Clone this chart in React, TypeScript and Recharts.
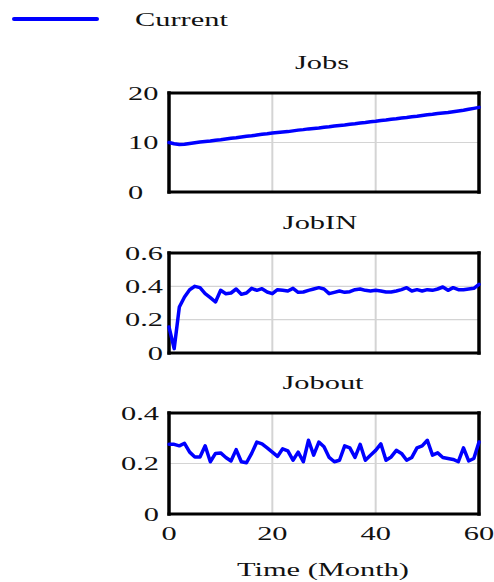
import React from 'react';
import { LineChart, Line, XAxis, YAxis, CartesianGrid, ReferenceLine } from 'recharts';

const months: number[] = Array.from({ length: 61 }, (_, i) => i);

const jobs: number[] = [
  10.0, 9.75, 9.6, 9.65, 9.8, 9.95, 10.1, 10.2, 10.3, 10.45,
  10.55, 10.7, 10.85, 10.95, 11.1, 11.25, 11.35, 11.5, 11.65, 11.75,
  11.9, 12.0, 12.1, 12.2, 12.35, 12.5, 12.6, 12.75, 12.85, 12.95,
  13.1, 13.2, 13.35, 13.45, 13.55, 13.7, 13.8, 13.95, 14.05, 14.2,
  14.3, 14.45, 14.55, 14.7, 14.8, 14.95, 15.05, 15.2, 15.3, 15.45,
  15.6, 15.7, 15.85, 15.95, 16.05, 16.2, 16.35, 16.5, 16.7, 16.9,
  17.1,
];

const jobIN: number[] = [
  0.156, 0.026, 0.276, 0.336, 0.38, 0.4, 0.392, 0.356, 0.332, 0.306,
  0.376, 0.356, 0.36, 0.384, 0.352, 0.36, 0.388, 0.376, 0.386, 0.366,
  0.356, 0.38, 0.376, 0.372, 0.388, 0.364, 0.366, 0.376, 0.384, 0.392,
  0.384, 0.356, 0.364, 0.372, 0.364, 0.368, 0.38, 0.384, 0.376, 0.372,
  0.376, 0.372, 0.366, 0.366, 0.372, 0.38, 0.392, 0.372, 0.38, 0.372,
  0.38, 0.376, 0.384, 0.396, 0.376, 0.392, 0.38, 0.38, 0.384, 0.388,
  0.412,
];

const jobout: number[] = [
  0.276, 0.276, 0.27, 0.28, 0.245, 0.226, 0.226, 0.27, 0.207, 0.24,
  0.242, 0.224, 0.21, 0.255, 0.207, 0.203, 0.24, 0.285, 0.278, 0.262,
  0.245, 0.228, 0.258, 0.25, 0.213, 0.245, 0.207, 0.292, 0.233, 0.285,
  0.266, 0.224, 0.207, 0.213, 0.27, 0.262, 0.224, 0.276, 0.213, 0.233,
  0.252, 0.278, 0.213, 0.226, 0.252, 0.24, 0.213, 0.224, 0.262, 0.27,
  0.292, 0.233, 0.242, 0.224, 0.22, 0.216, 0.207, 0.262, 0.21, 0.22,
  0.285,
];

const xTicks: number[] = [0, 20, 40, 60];
const jobsTicks: number[] = [0, 10, 20];
const jobINTicks: number[] = [0, 0.2, 0.4, 0.6];
const joboutTicks: number[] = [0, 0.2, 0.4];

const seriesName = 'Current';
const titles = ['Jobs', 'JobIN', 'Jobout'];
const xLabel = 'Time (Month)';

const FONT = '"Liberation Serif", "Times New Roman", Times, serif';
const FS = 19;
const SX = 1.6;
const BLUE = '#0000ff';

const jobsData = months.map((t, i) => ({ t, v: jobs[i] }));
const jobINData = months.map((t, i) => ({ t, v: jobIN[i] }));
const joboutData = months.map((t, i) => ({ t, v: jobout[i] }));

function ScaledText({ x, y, anchor, children }: { x: number; y: number; anchor: 'start' | 'middle' | 'end'; children: React.ReactNode }) {
  return (
    <text
      transform={`translate(${x},${y}) scale(${SX},1)`}
      textAnchor={anchor}
      dominantBaseline="central"
      fontFamily={FONT}
      fontSize={FS}
      fill="#111"
    >
      {children}
    </text>
  );
}

const makeYTick = (anchor: 'start' | 'end', dx: number) => (props: any) => {
  const { x, y, payload } = props;
  return (
    <g>
      <ScaledText x={x + dx} y={y} anchor={anchor}>{String(payload.value)}</ScaledText>
    </g>
  );
};

const XTick = (props: any) => {
  const { x, y, payload } = props;
  return (
    <g>
      <ScaledText x={x} y={y + 19} anchor="middle">{String(payload.value)}</ScaledText>
    </g>
  );
};

const EmptyTick = () => <g />;

function Panel({
  data, ticks, yMax, top, height, marginTop, marginBottom, yTick, showX,
}: {
  data: { t: number; v: number }[]; ticks: number[]; yMax: number; top: number; height: number;
  marginTop: number; marginBottom: number; yTick: any; showX: boolean;
}) {
  return (
    <div style={{ position: 'absolute', left: 0, top, width: 494, height }}>
      <LineChart width={494} height={height} data={data} margin={{ top: marginTop, right: 15, bottom: marginBottom, left: 0 }}>
        <CartesianGrid horizontal={true} vertical={false} stroke="#d4d4d4" strokeWidth={1.2} />
        <CartesianGrid horizontal={false} vertical={true} stroke="#d4d4d4" strokeWidth={2} />
        <XAxis
          dataKey="t"
          type="number"
          domain={[0, 60]}
          ticks={xTicks}
          height={showX ? 30 : 1}
          tick={showX ? XTick : EmptyTick}
          tickSize={0}
          tickMargin={0}
          axisLine={false}
          tickLine={false}
          interval={0}
        />
        <YAxis
          type="number"
          domain={[0, yMax]}
          ticks={ticks}
          width={169}
          tick={yTick}
          tickSize={0}
          tickMargin={0}
          axisLine={false}
          tickLine={false}
          interval={0}
        />
        <ReferenceLine x={0} stroke="#000" strokeWidth={3.5} strokeLinecap="square" />
        <ReferenceLine x={60} stroke="#000" strokeWidth={3.5} strokeLinecap="square" />
        <ReferenceLine y={0} stroke="#000" strokeWidth={3} strokeLinecap="square" />
        <ReferenceLine y={yMax} stroke="#000" strokeWidth={3} strokeLinecap="square" />
        <Line
          type="linear"
          dataKey="v"
          name={seriesName}
          stroke={BLUE}
          strokeWidth={3.5}
          dot={false}
          activeDot={false}
          isAnimationActive={false}
          strokeLinejoin="round"
          strokeLinecap="round"
        />
      </LineChart>
    </div>
  );
}

const htmlText = (x: number, y: number, text: string, origin: 'center' | 'left') => (
  <div
    style={{
      position: 'absolute',
      left: x,
      top: y,
      fontFamily: FONT,
      fontSize: FS,
      lineHeight: 1,
      color: '#111',
      whiteSpace: 'nowrap',
      transform: origin === 'center' ? `translate(-50%, -50%) scaleX(${SX})` : `translateY(-50%) scaleX(${SX})`,
      transformOrigin: origin === 'center' ? 'center center' : 'left center',
    }}
  >
    {text}
  </div>
);

export default function App() {
  return (
    <div style={{ position: 'absolute', left: 0, top: 0, width: 494, height: 582, background: '#fff', overflow: 'hidden' }}>
      <svg style={{ position: 'absolute', left: 0, top: 0 }} width={110} height={40}>
        <line x1={14} y1={19} x2={97} y2={19} stroke={BLUE} strokeWidth={4} strokeLinecap="round" />
      </svg>
      {htmlText(135, 19, seriesName, 'left')}

      <Panel data={jobsData} ticks={jobsTicks} yMax={20} top={0} height={212} marginTop={93} marginBottom={19} yTick={makeYTick('start', -41)} showX={false} />
      <Panel data={jobINData} ticks={jobINTicks} yMax={0.6} top={200} height={172} marginTop={53} marginBottom={18} yTick={makeYTick('end', -6)} showX={false} />
      <Panel data={joboutData} ticks={joboutTicks} yMax={0.4} top={360} height={222} marginTop={53} marginBottom={38} yTick={makeYTick('end', -10)} showX={true} />

      {htmlText(322, 62, titles[0], 'center')}
      {htmlText(320, 222, titles[1], 'center')}
      {htmlText(323, 382, titles[2], 'center')}
      {htmlText(323, 569, xLabel, 'center')}
    </div>
  );
}
